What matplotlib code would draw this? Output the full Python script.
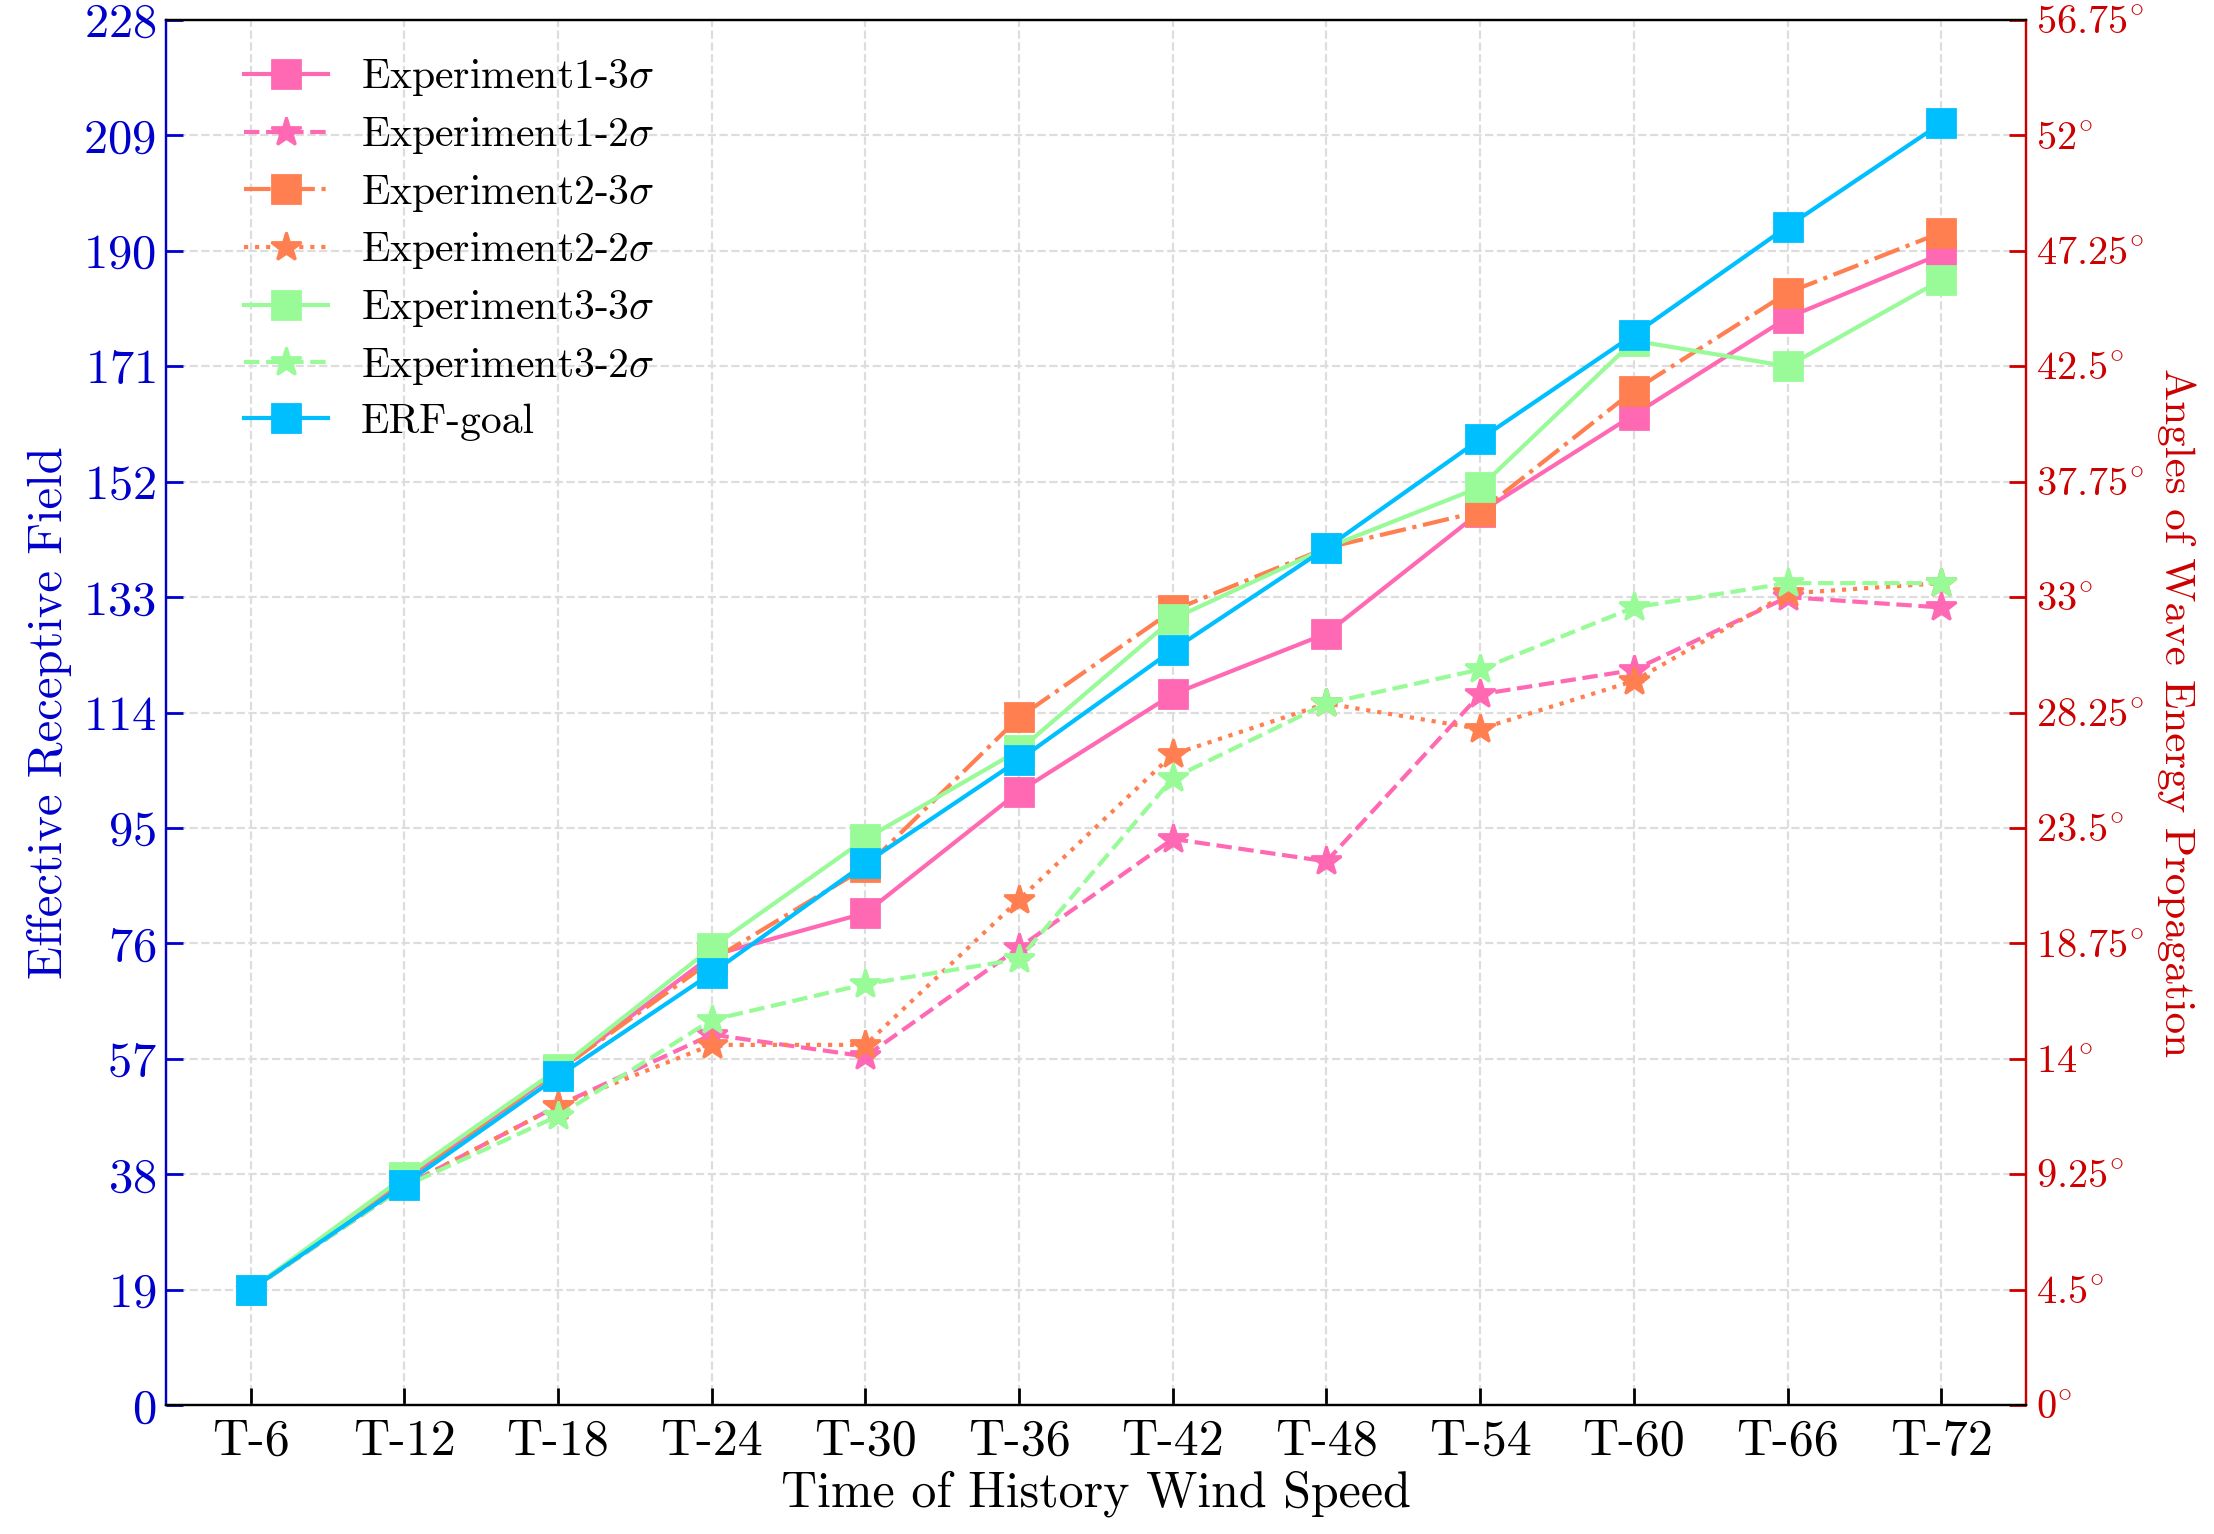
import matplotlib
matplotlib.use('Agg')
import matplotlib.pyplot as plt
import numpy as np

plt.rcParams['font.family'] = 'serif'
plt.rcParams['font.serif'] = ['cmr10']
plt.rcParams['mathtext.fontset'] = 'cm'
plt.rcParams['axes.unicode_minus'] = False
plt.rcParams['axes.formatter.use_mathtext'] = True

times = ['T-6', 'T-12', 'T-18', 'T-24', 'T-30', 'T-36', 'T-42', 'T-48', 'T-54', 'T-60', 'T-66', 'T-72']

exp1_3s = [19, 37, 55, 74, 81, 101, 117, 127, 147, 163, 179, 189.5]
exp1_2s = [19, 36, 49.3, 61, 57.4, 75.3, 93.2, 89.5, 117, 121, 133, 131.3]
exp2_3s = [19, 37, 55, 73.2, 88.5, 113.2, 130.8, 141.1, 147.1, 167, 183.1, 193]
exp2_2s = [19, 36, 49.3, 59.3, 59.3, 83.2, 107.1, 115.5, 111.3, 119.2, 133.6, 135.3]
exp3_3s = [19, 37.6, 55.3, 75.3, 93.2, 107.8, 129.4, 141.1, 151.1, 175.2, 171, 185.2]
exp3_2s = [19, 36, 47.6, 63.4, 69.3, 73.4, 103.2, 115.5, 121.1, 131.3, 135.3, 135.3]
erf_goal = [19, 36.3, 54.1, 71.1, 89.2, 106.2, 124.3, 141.1, 159, 176.2, 194, 211]

left_ticks = [0, 19, 38, 57, 76, 95, 114, 133, 152, 171, 190, 209, 228]
right_labels = ['0', '4.5', '9.25', '14', '18.75', '23.5', '28.25', '33',
                '37.75', '42.5', '47.25', '52', '56.75']

pink = '#FF69B4'
orange = '#FF7F50'
green = '#98FB98'
cyan = '#00BFFF'

fig, ax = plt.subplots(figsize=(11.07, 7.67), dpi=200)
fig.subplots_adjust(left=0.075, right=0.915, top=0.987, bottom=0.084)

x = np.arange(len(times))
sq = 10
st = 11
ax.plot(x, exp1_3s, color=pink, ls='-', marker='s', ms=sq, lw=1.5, label=r'Experiment1-3$\sigma$')
ax.plot(x, exp1_2s, color=pink, ls='--', marker='*', ms=st, lw=1.5, label=r'Experiment1-2$\sigma$')
ax.plot(x, exp2_3s, color=orange, ls='-.', marker='s', ms=sq, lw=1.5, label=r'Experiment2-3$\sigma$')
ax.plot(x, exp2_2s, color=orange, ls=':', marker='*', ms=st, lw=1.5, label=r'Experiment2-2$\sigma$')
ax.plot(x, exp3_3s, color=green, ls='-', marker='s', ms=sq, lw=1.5, label=r'Experiment3-3$\sigma$')
ax.plot(x, exp3_2s, color=green, ls='--', marker='*', ms=st, lw=1.5, label=r'Experiment3-2$\sigma$')
ax.plot(x, erf_goal, color=cyan, ls='-', marker='s', ms=sq, lw=1.5, label='ERF-goal')

ax.set_xlim(-0.55, 11.55)
ax.set_ylim(0, 228)
ax.set_xticks(x)
ax.set_xticklabels(times)
ax.set_yticks(left_ticks)
ax.grid(True, ls='--', color='#dddddd', lw=0.8)
ax.set_axisbelow(True)

ax.tick_params(axis='x', direction='in', labelsize=18, length=6, width=1, pad=5)
ax.tick_params(axis='y', direction='in', labelsize=17.5, colors='#0000CC', length=6, width=1)
ax.set_xlabel('Time of History Wind Speed', fontsize=18, labelpad=2)
ax.set_ylabel('Effective Receptive Field', fontsize=17.5, color='#0000CC')
ax.spines['left'].set_color('#0000CC')
ax.spines['right'].set_color('#CC0000')

ax2 = ax.twinx()
ax2.set_ylim(0, 228)
ax2.set_yticks(left_ticks)
ax2.set_yticklabels([s + r'$^{\circ}$' for s in right_labels])
ax2.tick_params(axis='y', direction='in', labelsize=14.5, colors='#CC0000', length=6, width=1)
ax2.set_ylabel('Angles of Wave Energy Propagation', fontsize=15.5, color='#CC0000',
               rotation=270, va='bottom', labelpad=5)
ax2.spines['left'].set_color('#0000CC')
ax2.spines['right'].set_color('#CC0000')

ax.legend(loc='upper left', frameon=False, fontsize=15, bbox_to_anchor=(0.022, 1.0),
          handlelength=2.0, labelspacing=0.4)

plt.savefig('out.png', dpi=200)
